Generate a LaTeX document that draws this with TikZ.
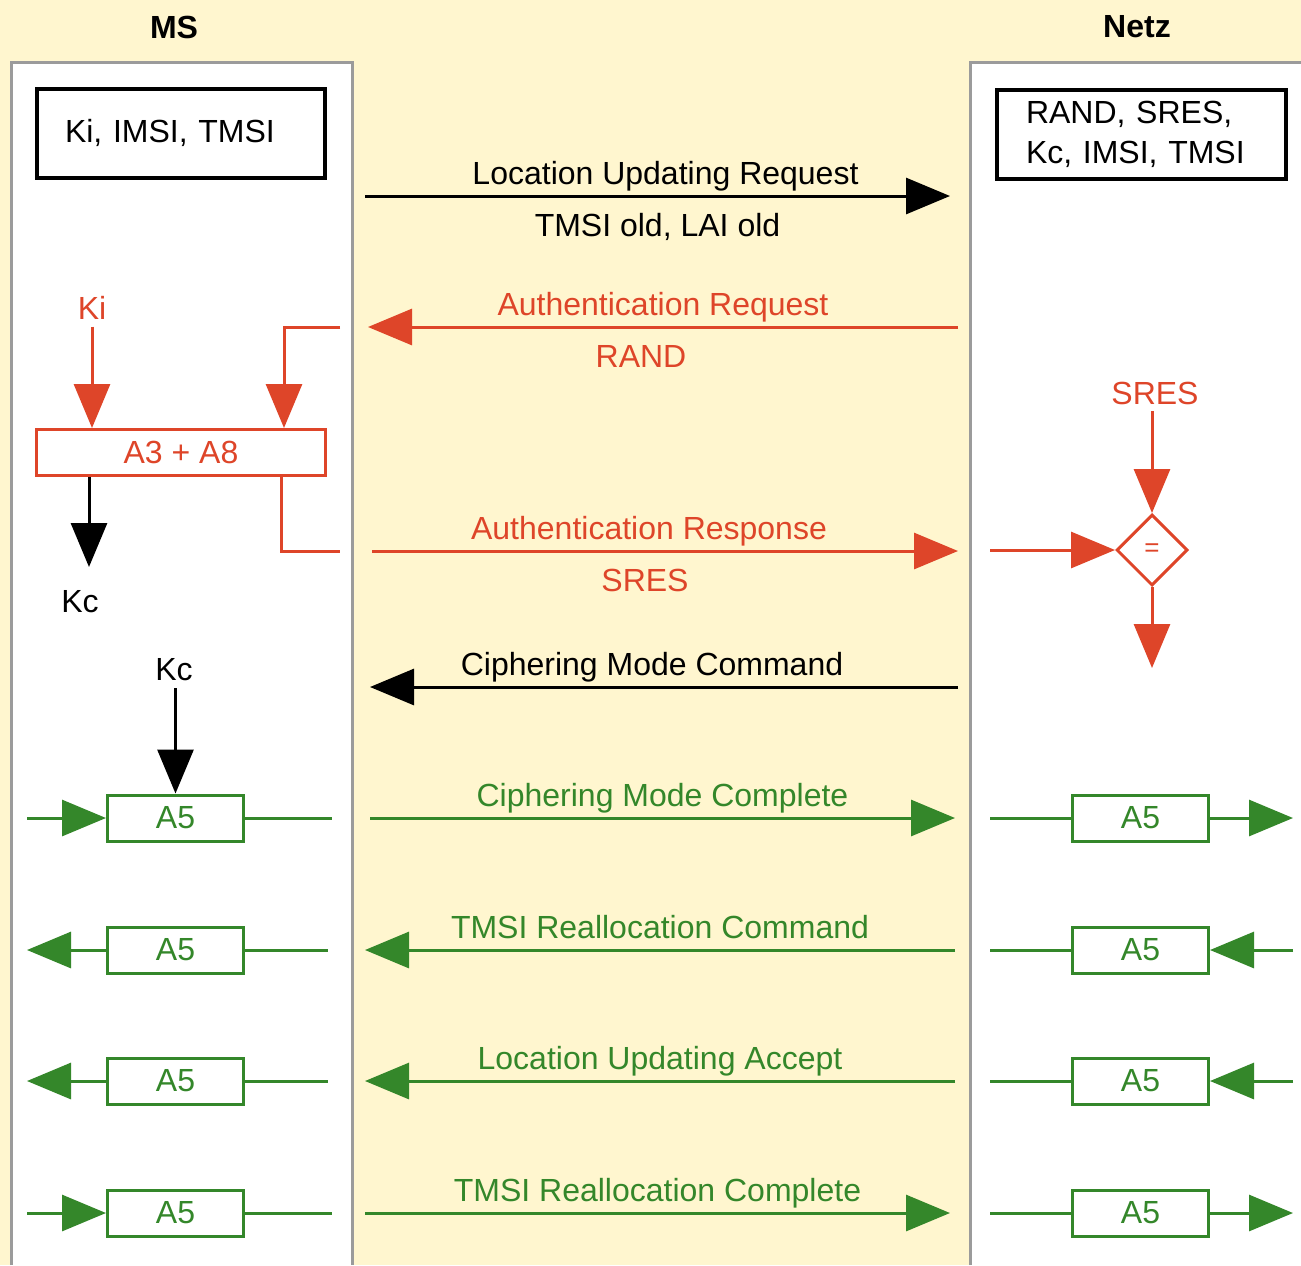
\documentclass[tikz,border=0pt]{standalone}
\usepackage{fontspec}
\setmainfont{Liberation Sans}
\usetikzlibrary{arrows.meta, positioning, shapes.geometric}
\definecolor{gsmred}{RGB}{222, 69, 41}
\definecolor{gsmgreen}{RGB}{52, 135, 42}
\definecolor{lanegray}{RGB}{155, 155, 155}
\definecolor{bgyellow}{RGB}{255, 246, 207}

\begin{document}
\begin{tikzpicture}[x=0.5pt, y=-0.5pt, font=\fontsize{16}{20}\selectfont,
    lane/.style={draw=lanegray, line width=1.5pt},
    head/.style={font=\fontsize{16}{20}\selectfont\bfseries},
    keybox/.style={rectangle, draw, line width=2pt, minimum height=44.5pt, align=left},
    algbox/.style={rectangle, draw, line width=1.5pt, fill=white, minimum height=23pt},
    a5box/.style={algbox, draw=gsmgreen, text=gsmgreen, minimum width=68pt},
    msg/.style={-{Triangle[length=22pt, width=18pt]}, line width=1.5pt},
    rmsg/.style={msg, gsmred},
    gmsg/.style={msg, gsmgreen},
    rline/.style={line width=1.5pt, gsmred},
    gline/.style={line width=1.5pt, gsmgreen},
    toplbl/.style={anchor=base, yshift=6pt},
    botlbl/.style={anchor=base, yshift=-20pt}]
    \useasboundingbox (0,0) rectangle (1301,1265);
    \fill[bgyellow] (0,0) rectangle (1301,1265);

    % lanes
    \fill[white] (11,62) rectangle (352,1265);
    \draw[lane] (11,1265) -- (11,62) -- (352,62) -- (352,1265);
    \fill[white] (970,62) rectangle (1301,1265);
    \draw[lane] (970,1265) -- (970,62) -- (1301,62);
    \node[head] (ms) at (174,27) {MS};
    \node[head] (netz) at (1137,27) {Netz};

    \node[keybox, text width=116pt, inner xsep=14pt] (mskeys) at (181,133) {Ki, IMSI, TMSI};
    \node[keybox, text width=115.5pt, inner xsep=14.5pt] (netzkeys) at (1141.5,134.5) {RAND, SRES,\\Kc, IMSI, TMSI};

    % location updating request
    \coordinate (lur-s) at (365,196);
    \coordinate (lur-e) at (950,196);
    \draw[msg] (lur-s) -- node[toplbl, xshift=4pt] {Location Updating Request}
        node[botlbl] {TMSI old, LAI old} (lur-e);

    % authentication
    \coordinate (aur-s) at (958,327);
    \coordinate (aur-e) at (368,327);
    \draw[rmsg] (aur-s) -- node[toplbl] {Authentication Request}
        node[botlbl, xshift=-11pt] {RAND} (aur-e);

    \node[algbox, draw=gsmred, text=gsmred, minimum width=144.5pt] (a38) at (181,452.5) {A3 + A8};
    \node[text=gsmred] (ki) at (92,308) {Ki};
    \draw[rmsg] (ki) -- (ki |- a38.north);
    \coordinate (randtap) at (340,327);
    \coordinate (randin) at (284,428);
    \draw[rmsg] (randtap) -| (randin);

    \coordinate (kc1tip) at (89,567);
    \draw[msg] (a38.south -| kc1tip) -- (kc1tip);
    \node (kc1) at (80,602) {Kc};

    \coordinate (sresup) at (281,477);
    \coordinate (sresend) at (340,551);
    \draw[rline] (sresup) |- (sresend);

    \coordinate (aurp-s) at (372,551);
    \coordinate (aurp-e) at (958,551);
    \draw[rmsg] (aurp-s) -- node[toplbl, xshift=-8pt] {Authentication Response}
        node[botlbl, xshift=-10pt] {SRES} (aurp-e);

    \node[diamond, draw=gsmred, line width=1.5pt, fill=white, text=gsmred, minimum size=35.5pt,
        inner sep=0pt, font=\fontsize{13}{13}\selectfont] (cmp) at (1152,550) {=};
    \node[text=gsmred] (sres) at (1155,393) {SRES};
    \draw[rmsg] (sres.south -| cmp) -- (cmp.north);
    \coordinate (cmpin) at (990,550);
    \draw[rmsg] (cmpin) -- (cmp.west);
    \coordinate (cmpout) at (1152,668);
    \draw[rmsg] (cmp.south) -- (cmpout);

    % ciphering mode command
    \coordinate (cmd-s) at (958,687);
    \coordinate (cmd-e) at (370,687);
    \draw[msg] (cmd-s) -- node[toplbl, xshift=-6pt] {Ciphering Mode Command} (cmd-e);

    % A5 boxes
    \node[a5box] (msa1) at (175.5,818) {A5};
    \node[a5box] (msa2) at (175.5,950) {A5};
    \node[a5box] (msa3) at (175.5,1081) {A5};
    \node[a5box] (msa4) at (175.5,1213) {A5};
    \node[a5box] (na1) at (1140.5,818) {A5};
    \node[a5box] (na2) at (1140.5,950) {A5};
    \node[a5box] (na3) at (1140.5,1081) {A5};
    \node[a5box] (na4) at (1140.5,1213) {A5};

    \node (kc2) at (174,670) {Kc};
    \draw[msg] (kc2.south -| msa1) -- (msa1.north);

    % ciphering mode complete
    \coordinate (msl1) at (27,818);
    \coordinate (msr1) at (332,818);
    \draw[gmsg] (msl1) -- (msa1);
    \draw[gline] (msa1) -- (msr1);
    \coordinate (cmc-s) at (370,818);
    \coordinate (cmc-e) at (955,818);
    \draw[gmsg] (cmc-s) -- node[toplbl] {Ciphering Mode Complete} (cmc-e);
    \coordinate (nl1) at (990,818);
    \coordinate (nr1) at (1293,818);
    \draw[gline] (nl1) -- (na1);
    \draw[gmsg] (na1) -- (nr1);

    % tmsi reallocation command
    \coordinate (msl2) at (27,950);
    \coordinate (msr2) at (328,950);
    \draw[gmsg] (msa2) -- (msl2);
    \draw[gline] (msa2) -- (msr2);
    \coordinate (trc-s) at (955,950);
    \coordinate (trc-e) at (365,950);
    \draw[gmsg] (trc-s) -- node[toplbl] {TMSI Reallocation Command} (trc-e);
    \coordinate (nl2) at (990,950);
    \coordinate (nr2) at (1293,950);
    \draw[gline] (nl2) -- (na2);
    \draw[gmsg] (nr2) -- (na2);

    % location updating accept
    \coordinate (msl3) at (27,1081);
    \coordinate (msr3) at (328,1081);
    \draw[gmsg] (msa3) -- (msl3);
    \draw[gline] (msa3) -- (msr3);
    \coordinate (lua-s) at (955,1081);
    \coordinate (lua-e) at (365,1081);
    \draw[gmsg] (lua-s) -- node[toplbl] {Location Updating Accept} (lua-e);
    \coordinate (nl3) at (990,1081);
    \coordinate (nr3) at (1293,1081);
    \draw[gline] (nl3) -- (na3);
    \draw[gmsg] (nr3) -- (na3);

    % tmsi reallocation complete
    \coordinate (msl4) at (27,1213);
    \coordinate (msr4) at (332,1213);
    \draw[gmsg] (msl4) -- (msa4);
    \draw[gline] (msa4) -- (msr4);
    \coordinate (tcp-s) at (365,1213);
    \coordinate (tcp-e) at (950,1213);
    \draw[gmsg] (tcp-s) -- node[toplbl] {TMSI Reallocation Complete} (tcp-e);
    \coordinate (nl4) at (990,1213);
    \coordinate (nr4) at (1293,1213);
    \draw[gline] (nl4) -- (na4);
    \draw[gmsg] (na4) -- (nr4);
\end{tikzpicture}
\end{document}
